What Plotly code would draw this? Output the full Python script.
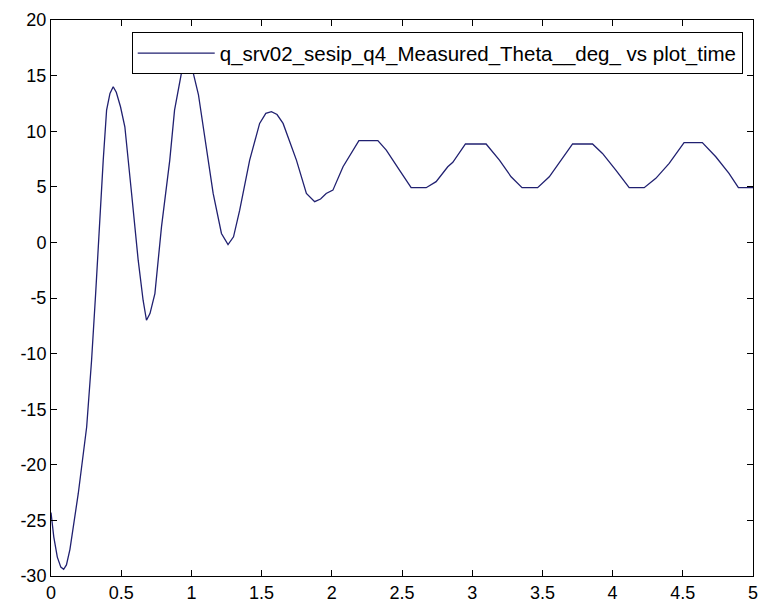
import plotly.graph_objects as go

plot_time = [
    0.0, 0.02, 0.045, 0.07, 0.09, 0.11, 0.135, 0.16, 0.194, 0.254, 0.289, 0.318, 0.344, 0.372, 0.396,
    0.42, 0.443, 0.465, 0.495, 0.526, 0.574, 0.621, 0.656, 0.68, 0.705, 0.74, 0.787, 0.846, 0.88,
    0.93, 0.97, 1.01, 1.05, 1.083, 1.155, 1.214, 1.261, 1.30, 1.344, 1.415, 1.486, 1.53, 1.57, 1.61,
    1.653, 1.748, 1.819, 1.878, 1.92, 1.96, 2.008, 2.08, 2.15, 2.193, 2.328, 2.388, 2.482, 2.565,
    2.672, 2.743, 2.826, 2.862, 2.952, 3.099, 3.194, 3.277, 3.355, 3.466, 3.549, 3.632, 3.715,
    3.857, 3.928, 4.023, 4.118, 4.225, 4.308, 4.403, 4.509, 4.639, 4.735, 4.829, 4.896, 5.0,
]
theta_deg = [
    -24.3, -26.5, -28.3, -29.2, -29.4, -29.0, -27.6, -25.6, -22.6, -16.6, -10.6, -4.6, 1.4, 7.4, 11.9,
    13.4, 14.0, 13.5, 12.2, 10.4, 4.4, -1.6, -5.2, -7.0, -6.4, -4.6, 1.4, 7.4, 11.9,
    15.3, 16.2, 15.4, 13.3, 10.4, 4.4, 0.8, -0.2, 0.5, 2.9, 7.4, 10.7, 11.6, 11.75, 11.5,
    10.7, 7.4, 4.4, 3.66, 3.9, 4.4, 4.7, 6.8, 8.3, 9.15, 9.15, 8.3, 6.5, 4.92,
    4.92, 5.46, 6.8, 7.2, 8.85, 8.85, 7.4, 5.9, 4.92, 4.92, 5.9, 7.4, 8.85,
    8.85, 8.0, 6.5, 4.92, 4.92, 5.76, 7.1, 8.97, 8.97, 7.7, 6.2, 4.92, 4.92,
]
x_ticks = [0, 0.5, 1, 1.5, 2, 2.5, 3, 3.5, 4, 4.5, 5]
x_tick_labels = ["0", "0.5", "1", "1.5", "2", "2.5", "3", "3.5", "4", "4.5", "5"]
y_ticks = [-30, -25, -20, -15, -10, -5, 0, 5, 10, 15, 20]
y_tick_labels = ["-30", "-25", "-20", "-15", "-10", "-5", "0", "5", "10", "15", "20"]
series_name = "q_srv02_sesip_q4_Measured_Theta__deg_ vs plot_time"

fig = go.Figure()
fig.add_trace(go.Scatter(
    x=plot_time, y=theta_deg, mode="lines", name=series_name,
    line=dict(color="#202070", width=1.3),
))

font_family = "Liberation Sans, Arial, sans-serif"
axis_common = dict(
    showgrid=False, zeroline=False, showline=True, linecolor="black", linewidth=1,
    mirror="ticks", ticks="inside", ticklen=6, tickcolor="black", tickwidth=1,
    tickfont=dict(family=font_family, size=18, color="black"),
    automargin=False,
)
fig.update_xaxes(range=[0, 5], tickvals=x_ticks, ticktext=x_tick_labels, **axis_common)
fig.update_yaxes(range=[-30, 20], tickvals=y_ticks, ticktext=y_tick_labels, **axis_common)

fig.update_layout(
    width=759, height=605,
    margin=dict(l=51, r=6, t=20, b=29),
    paper_bgcolor="white", plot_bgcolor="white",
    showlegend=True,
    legend=dict(
        x=0.115, y=0.978, xanchor="left", yanchor="top",
        bgcolor="white", bordercolor="black", borderwidth=1,
        font=dict(family=font_family, size=20.5, color="black"),
        itemwidth=77,
    ),
)

fig.write_html(
    "out.html",
    config={"displayModeBar": False},
    post_script="document.body.style.margin='0';document.body.style.overflow='hidden';",
)
